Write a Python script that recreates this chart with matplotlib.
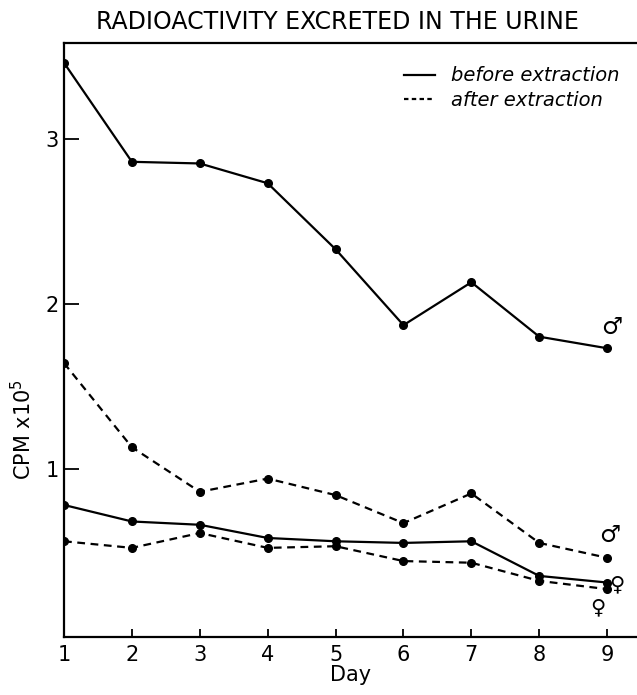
import numpy as np
import matplotlib
matplotlib.use('Agg')
import matplotlib.pyplot as plt
from matplotlib.lines import Line2D

# ── Data (CPM x 10^5 per day) ────────────────────────────────────────────────
days = [1, 2, 3, 4, 5, 6, 7, 8, 9]

male_before   = [3.46, 2.86, 2.85, 2.73, 2.33, 1.87, 2.13, 1.80, 1.73]
male_after    = [1.64, 1.13, 0.86, 0.94, 0.84, 0.67, 0.85, 0.55, 0.46]
female_before = [0.78, 0.68, 0.66, 0.58, 0.56, 0.55, 0.56, 0.35, 0.31]
female_after  = [0.56, 0.52, 0.61, 0.52, 0.53, 0.44, 0.43, 0.32, 0.27]

x_ticks = [1, 2, 3, 4, 5, 6, 7, 8, 9]
y_ticks = [1, 2, 3]

TITLE = "RADIOACTIVITY EXCRETED IN THE URINE"

# ── Plot ─────────────────────────────────────────────────────────────────────
plt.rcParams['font.family'] = ['DejaVu Sans']

fig = plt.figure(figsize=(6.37, 6.95), dpi=100)
ax = fig.add_axes([0.1005, 0.0835, 0.8995, 0.8546])

DASH = (0, (3.5, 2.5))
line_kw = dict(color='black', lw=1.6, marker='o', ms=5.5)
ax.plot(days, male_before, ls='-', **line_kw)
ax.plot(days, male_after, ls=DASH, **line_kw)
ax.plot(days, female_before, ls='-', **line_kw)
ax.plot(days, female_after, ls=DASH, **line_kw)

ax.set_xlim(1, 9.44)
ax.set_ylim(-0.02, 3.58)
ax.set_xticks(x_ticks)
ax.set_yticks(y_ticks)
ax.tick_params(axis='x', direction='in', length=6, width=1.3, labelsize=15, pad=6)
ax.tick_params(axis='y', direction='in', length=11, width=1.3, labelsize=15, pad=4)

ax.spines['right'].set_visible(False)
for s in ['left', 'bottom', 'top']:
    ax.spines[s].set_linewidth(1.6)

ax.set_xlabel("Day", fontsize=15, labelpad=0)
ax.set_ylabel("CPM x10$^5$", fontsize=15)
ax.yaxis.set_label_coords(-0.05, 0.35)

fig.text(0.53, 0.968, TITLE, ha='center', va='center', fontsize=17)

# legend
handles = [Line2D([], [], color='black', lw=1.6, ls='-'),
           Line2D([], [], color='black', lw=1.6, ls=(0, (2, 1.5)))]
ax.legend(handles, ["before extraction", "after extraction"],
          loc='upper right', bbox_to_anchor=(1.0, 0.99), frameon=False,
          handlelength=1.6, handletextpad=0.8, labelspacing=0.3,
          prop={'size': 14, 'style': 'italic'})

# sex symbols
ax.text(9.07, 1.86, "\u2642", fontsize=17, fontweight='bold', ha='center', va='center')
ax.text(9.04, 0.60, "\u2642", fontsize=17, fontweight='bold', ha='center', va='center')
ax.text(9.14, 0.30, "\u2640", fontsize=15, fontweight='bold', ha='center', va='center')
ax.text(8.87, 0.16, "\u2640", fontsize=15, fontweight='bold', ha='center', va='center')

fig.savefig("out.png", dpi=100)
